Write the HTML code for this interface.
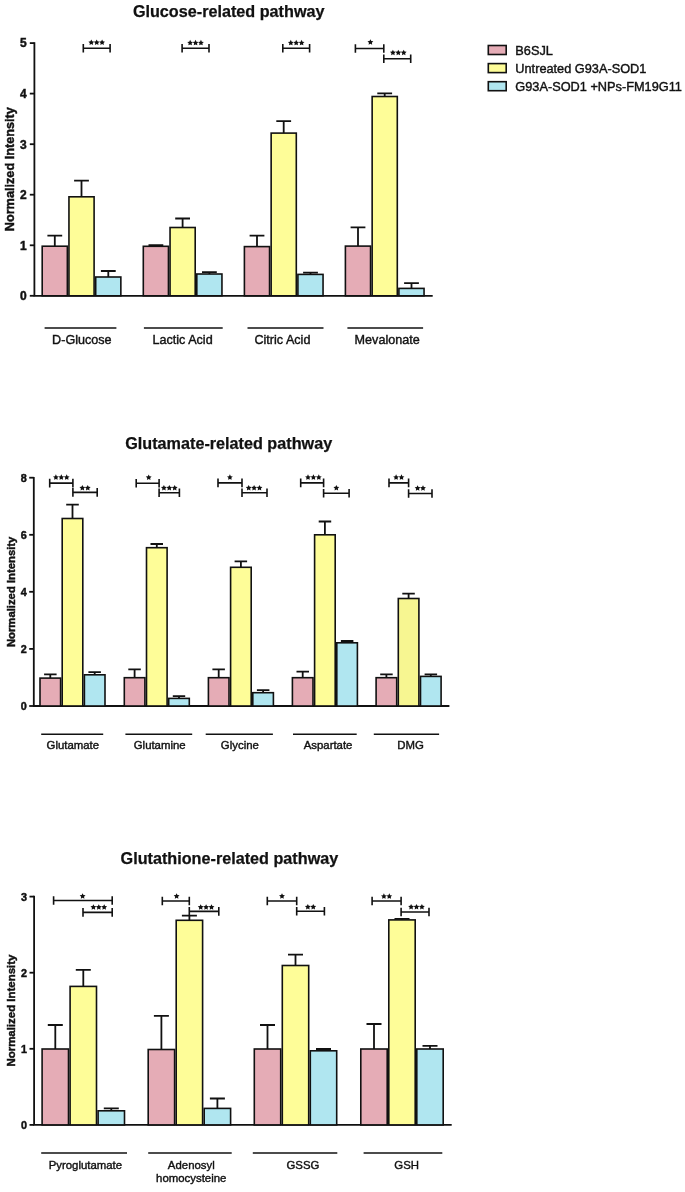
<!DOCTYPE html>
<html><head><meta charset="utf-8"><style>
html,body{margin:0;padding:0;background:#fff;}
body{width:685px;height:1192px;overflow:hidden;}
svg{display:block;} svg{filter:contrast(1)}
</style></head><body>
<svg width="685" height="1192" viewBox="0 0 685 1192" font-family="Liberation Sans, sans-serif" fill="#111"><style>.r{stroke:#111;stroke-width:0.4px;}.b{stroke:#111;stroke-width:0.45px;}.t{stroke:#111;stroke-width:0.25px;}</style>
<rect width="685" height="1192" fill="#fff"/>
<text class="t" x="228.7" y="16.8" font-size="16.2" font-weight="bold" text-anchor="middle">Glucose-related pathway</text>
<text class="b" transform="translate(13.6 169.2) rotate(-90)" font-size="12.7" font-weight="bold" text-anchor="middle">Normalized Intensity</text>
<path d="M34.4 42.2V295.8H432.7" stroke="#111" stroke-width="1.8" fill="none"/>
<path d="M29.8 295.8H34.4" stroke="#111" stroke-width="1.8"/>
<text class="b" x="26.8" y="300.1" font-size="12.0" font-weight="bold" text-anchor="end">0</text>
<path d="M29.8 245.3H34.4" stroke="#111" stroke-width="1.8"/>
<text class="b" x="26.8" y="249.6" font-size="12.0" font-weight="bold" text-anchor="end">1</text>
<path d="M29.8 194.7H34.4" stroke="#111" stroke-width="1.8"/>
<text class="b" x="26.8" y="199.0" font-size="12.0" font-weight="bold" text-anchor="end">2</text>
<path d="M29.8 144.2H34.4" stroke="#111" stroke-width="1.8"/>
<text class="b" x="26.8" y="148.5" font-size="12.0" font-weight="bold" text-anchor="end">3</text>
<path d="M29.8 93.6H34.4" stroke="#111" stroke-width="1.8"/>
<text class="b" x="26.8" y="98.0" font-size="12.0" font-weight="bold" text-anchor="end">4</text>
<path d="M29.8 43.1H34.4" stroke="#111" stroke-width="1.8"/>
<text class="b" x="26.8" y="47.4" font-size="12.0" font-weight="bold" text-anchor="end">5</text>
<path d="M54.8 246.2V235.7M47.4 235.7H62.2" stroke="#111" stroke-width="1.8" fill="none"/>
<rect x="42.20" y="246.20" width="25.15" height="49.60" fill="#e5acb6" stroke="#111" stroke-width="1.6"/>
<path d="M81.5 196.8V180.7M74.1 180.7H88.9" stroke="#111" stroke-width="1.8" fill="none"/>
<rect x="68.95" y="196.80" width="25.15" height="99.00" fill="#fefd98" stroke="#111" stroke-width="1.6"/>
<path d="M108.3 277.0V271.0M100.9 271.0H115.7" stroke="#111" stroke-width="1.8" fill="none"/>
<rect x="95.70" y="277.00" width="25.15" height="18.80" fill="#b0e6f0" stroke="#111" stroke-width="1.6"/>
<path d="M155.9 246.3V245.2M148.5 245.2H163.3" stroke="#111" stroke-width="1.8" fill="none"/>
<rect x="143.30" y="246.30" width="25.15" height="49.50" fill="#e5acb6" stroke="#111" stroke-width="1.6"/>
<path d="M182.6 227.5V218.5M175.2 218.5H190.0" stroke="#111" stroke-width="1.8" fill="none"/>
<rect x="170.05" y="227.50" width="25.15" height="68.30" fill="#fefd98" stroke="#111" stroke-width="1.6"/>
<path d="M209.4 274.0V272.1M202.0 272.1H216.8" stroke="#111" stroke-width="1.8" fill="none"/>
<rect x="196.80" y="274.00" width="25.15" height="21.80" fill="#b0e6f0" stroke="#111" stroke-width="1.6"/>
<path d="M257.0 246.6V235.7M249.6 235.7H264.4" stroke="#111" stroke-width="1.8" fill="none"/>
<rect x="244.40" y="246.60" width="25.15" height="49.20" fill="#e5acb6" stroke="#111" stroke-width="1.6"/>
<path d="M283.7 133.1V121.1M276.3 121.1H291.1" stroke="#111" stroke-width="1.8" fill="none"/>
<rect x="271.15" y="133.10" width="25.15" height="162.70" fill="#fefd98" stroke="#111" stroke-width="1.6"/>
<path d="M310.5 274.4V272.7M303.1 272.7H317.9" stroke="#111" stroke-width="1.8" fill="none"/>
<rect x="297.90" y="274.40" width="25.15" height="21.40" fill="#b0e6f0" stroke="#111" stroke-width="1.6"/>
<path d="M358.0 246.1V227.3M350.6 227.3H365.4" stroke="#111" stroke-width="1.8" fill="none"/>
<rect x="345.40" y="246.10" width="25.15" height="49.70" fill="#e5acb6" stroke="#111" stroke-width="1.6"/>
<path d="M384.7 96.5V93.4M377.3 93.4H392.1" stroke="#111" stroke-width="1.8" fill="none"/>
<rect x="372.15" y="96.50" width="25.15" height="199.30" fill="#fefd98" stroke="#111" stroke-width="1.6"/>
<path d="M411.5 288.4V283.2M404.1 283.2H418.9" stroke="#111" stroke-width="1.8" fill="none"/>
<rect x="398.90" y="288.40" width="25.15" height="7.40" fill="#b0e6f0" stroke="#111" stroke-width="1.6"/>
<path d="M83.3 44.0V52.6M110.1 44.0V52.6M83.3 48.3H110.1" stroke="#111" stroke-width="1.6" fill="none"/>
<polygon points="91.30,39.55 92.20,41.37 94.20,41.66 92.75,43.07 93.09,45.07 91.30,44.12 89.51,45.07 89.85,43.07 88.40,41.66 90.40,41.37" fill="#111"/>
<polygon points="96.70,39.55 97.60,41.37 99.60,41.66 98.15,43.07 98.49,45.07 96.70,44.12 94.91,45.07 95.25,43.07 93.80,41.66 95.80,41.37" fill="#111"/>
<polygon points="102.10,39.55 103.00,41.37 105.00,41.66 103.55,43.07 103.89,45.07 102.10,44.12 100.31,45.07 100.65,43.07 99.20,41.66 101.20,41.37" fill="#111"/>
<path d="M182.1 44.0V52.6M209.0 44.0V52.6M182.1 48.3H209.0" stroke="#111" stroke-width="1.6" fill="none"/>
<polygon points="190.15,39.85 191.05,41.67 193.05,41.96 191.60,43.37 191.94,45.37 190.15,44.42 188.36,45.37 188.70,43.37 187.25,41.96 189.25,41.67" fill="#111"/>
<polygon points="195.55,39.85 196.45,41.67 198.45,41.96 197.00,43.37 197.34,45.37 195.55,44.42 193.76,45.37 194.10,43.37 192.65,41.96 194.65,41.67" fill="#111"/>
<polygon points="200.95,39.85 201.85,41.67 203.85,41.96 202.40,43.37 202.74,45.37 200.95,44.42 199.16,45.37 199.50,43.37 198.05,41.96 200.05,41.67" fill="#111"/>
<path d="M282.8 44.0V52.6M309.6 44.0V52.6M282.8 48.3H309.6" stroke="#111" stroke-width="1.6" fill="none"/>
<polygon points="290.80,39.85 291.70,41.67 293.70,41.96 292.25,43.37 292.59,45.37 290.80,44.42 289.01,45.37 289.35,43.37 287.90,41.96 289.90,41.67" fill="#111"/>
<polygon points="296.20,39.85 297.10,41.67 299.10,41.96 297.65,43.37 297.99,45.37 296.20,44.42 294.41,45.37 294.75,43.37 293.30,41.96 295.30,41.67" fill="#111"/>
<polygon points="301.60,39.85 302.50,41.67 304.50,41.96 303.05,43.37 303.39,45.37 301.60,44.42 299.81,45.37 300.15,43.37 298.70,41.96 300.70,41.67" fill="#111"/>
<path d="M355.4 44.2V52.8M383.8 44.2V52.8M355.4 48.5H383.8" stroke="#111" stroke-width="1.6" fill="none"/>
<polygon points="370.40,39.25 371.30,41.07 373.30,41.36 371.85,42.77 372.19,44.77 370.40,43.82 368.61,44.77 368.95,42.77 367.50,41.36 369.50,41.07" fill="#111"/>
<path d="M383.8 54.4V63.0M410.7 54.4V63.0M383.8 58.7H410.7" stroke="#111" stroke-width="1.6" fill="none"/>
<polygon points="392.90,49.75 393.80,51.57 395.80,51.86 394.35,53.27 394.69,55.27 392.90,54.32 391.11,55.27 391.45,53.27 390.00,51.86 392.00,51.57" fill="#111"/>
<polygon points="398.30,49.75 399.20,51.57 401.20,51.86 399.75,53.27 400.09,55.27 398.30,54.32 396.51,55.27 396.85,53.27 395.40,51.86 397.40,51.57" fill="#111"/>
<polygon points="403.70,49.75 404.60,51.57 406.60,51.86 405.15,53.27 405.49,55.27 403.70,54.32 401.91,55.27 402.25,53.27 400.80,51.86 402.80,51.57" fill="#111"/>
<path d="M44.6 328.0H116.4" stroke="#111" stroke-width="1.6"/>
<path d="M143.9 328.0H222.7" stroke="#111" stroke-width="1.6"/>
<path d="M247.5 328.0H323.5" stroke="#111" stroke-width="1.6"/>
<path d="M347.4 328.0H423.1" stroke="#111" stroke-width="1.6"/>
<text class="r" x="81.85" y="344.3" font-size="12.6" text-anchor="middle">D-Glucose</text>
<text class="r" x="182.55" y="344.3" font-size="12.6" text-anchor="middle">Lactic Acid</text>
<text class="r" x="282.40" y="344.3" font-size="12.6" text-anchor="middle">Citric Acid</text>
<text class="r" x="387.15" y="344.3" font-size="12.6" text-anchor="middle">Mevalonate</text>
<rect x="488.3" y="45.5" width="17.9" height="9.0" fill="#e5acb6" stroke="#111" stroke-width="1.6"/>
<text class="r" x="515.3" y="55.1" font-size="12.75">B6SJL</text>
<rect x="488.3" y="63.6" width="17.9" height="9.0" fill="#fefd98" stroke="#111" stroke-width="1.6"/>
<text class="r" x="515.3" y="73.2" font-size="12.75">Untreated G93A-SOD1</text>
<rect x="488.3" y="81.7" width="17.9" height="9.0" fill="#b0e6f0" stroke="#111" stroke-width="1.6"/>
<text class="r" x="515.3" y="91.3" font-size="12.75">G93A-SOD1 +NPs-FM19G11</text>
<text class="t" x="228.7" y="449" font-size="16.2" font-weight="bold" text-anchor="middle">Glutamate-related pathway</text>
<text class="b" transform="translate(14.5 591.85) rotate(-90)" font-size="11.3" font-weight="bold" text-anchor="middle">Normalized Intensity</text>
<path d="M33.8 476.9V706.0H449.4" stroke="#111" stroke-width="1.8" fill="none"/>
<path d="M29.2 706.0H33.8" stroke="#111" stroke-width="1.8"/>
<text class="b" x="26.7" y="709.9" font-size="10.8" font-weight="bold" text-anchor="end">0</text>
<path d="M29.2 648.9H33.8" stroke="#111" stroke-width="1.8"/>
<text class="b" x="26.7" y="652.8" font-size="10.8" font-weight="bold" text-anchor="end">2</text>
<path d="M29.2 591.8H33.8" stroke="#111" stroke-width="1.8"/>
<text class="b" x="26.7" y="595.7" font-size="10.8" font-weight="bold" text-anchor="end">4</text>
<path d="M29.2 534.8H33.8" stroke="#111" stroke-width="1.8"/>
<text class="b" x="26.7" y="538.6" font-size="10.8" font-weight="bold" text-anchor="end">6</text>
<path d="M29.2 477.7H33.8" stroke="#111" stroke-width="1.8"/>
<text class="b" x="26.7" y="481.6" font-size="10.8" font-weight="bold" text-anchor="end">8</text>
<path d="M50.3 678.1V674.4M44.1 674.4H56.6" stroke="#111" stroke-width="1.8" fill="none"/>
<rect x="40.00" y="678.10" width="20.60" height="27.90" fill="#e5acb6" stroke="#111" stroke-width="1.6"/>
<path d="M72.5 518.5V504.7M66.2 504.7H78.8" stroke="#111" stroke-width="1.8" fill="none"/>
<rect x="62.20" y="518.50" width="20.60" height="187.50" fill="#fefd98" stroke="#111" stroke-width="1.6"/>
<path d="M94.7 674.8V672.2M88.4 672.2H100.9" stroke="#111" stroke-width="1.8" fill="none"/>
<rect x="84.40" y="674.80" width="20.60" height="31.20" fill="#b0e6f0" stroke="#111" stroke-width="1.6"/>
<path d="M134.6 677.7V669.4M128.3 669.4H140.8" stroke="#111" stroke-width="1.8" fill="none"/>
<rect x="124.30" y="677.70" width="20.60" height="28.30" fill="#e5acb6" stroke="#111" stroke-width="1.6"/>
<path d="M156.8 547.7V544.0M150.5 544.0H163.0" stroke="#111" stroke-width="1.8" fill="none"/>
<rect x="146.50" y="547.70" width="20.60" height="158.30" fill="#fefd98" stroke="#111" stroke-width="1.6"/>
<path d="M179.0 698.4V696.2M172.8 696.2H185.2" stroke="#111" stroke-width="1.8" fill="none"/>
<rect x="168.70" y="698.40" width="20.60" height="7.60" fill="#b0e6f0" stroke="#111" stroke-width="1.6"/>
<path d="M218.7 677.7V669.4M212.4 669.4H224.9" stroke="#111" stroke-width="1.8" fill="none"/>
<rect x="208.40" y="677.70" width="20.60" height="28.30" fill="#e5acb6" stroke="#111" stroke-width="1.6"/>
<path d="M240.9 567.3V561.4M234.6 561.4H247.1" stroke="#111" stroke-width="1.8" fill="none"/>
<rect x="230.60" y="567.30" width="20.60" height="138.70" fill="#fefd98" stroke="#111" stroke-width="1.6"/>
<path d="M263.1 692.7V690.1M256.9 690.1H269.4" stroke="#111" stroke-width="1.8" fill="none"/>
<rect x="252.80" y="692.70" width="20.60" height="13.30" fill="#b0e6f0" stroke="#111" stroke-width="1.6"/>
<path d="M302.7 677.7V671.6M296.5 671.6H309.0" stroke="#111" stroke-width="1.8" fill="none"/>
<rect x="292.40" y="677.70" width="20.60" height="28.30" fill="#e5acb6" stroke="#111" stroke-width="1.6"/>
<path d="M324.9 534.8V521.5M318.7 521.5H331.2" stroke="#111" stroke-width="1.8" fill="none"/>
<rect x="314.60" y="534.80" width="20.60" height="171.20" fill="#fefd98" stroke="#111" stroke-width="1.6"/>
<path d="M347.1 642.8V641.0M340.9 641.0H353.4" stroke="#111" stroke-width="1.8" fill="none"/>
<rect x="336.80" y="642.80" width="20.60" height="63.20" fill="#b0e6f0" stroke="#111" stroke-width="1.6"/>
<path d="M386.4 677.7V674.4M380.2 674.4H392.7" stroke="#111" stroke-width="1.8" fill="none"/>
<rect x="376.10" y="677.70" width="20.60" height="28.30" fill="#e5acb6" stroke="#111" stroke-width="1.6"/>
<path d="M408.6 598.5V593.7M402.3 593.7H414.8" stroke="#111" stroke-width="1.8" fill="none"/>
<rect x="398.30" y="598.50" width="20.60" height="107.50" fill="#f7f691" stroke="#111" stroke-width="1.6"/>
<path d="M430.8 676.4V674.4M424.6 674.4H437.1" stroke="#111" stroke-width="1.8" fill="none"/>
<rect x="420.50" y="676.40" width="20.60" height="29.60" fill="#b0e6f0" stroke="#111" stroke-width="1.6"/>
<path d="M49.7 478.8V487.4M72.9 478.8V487.4M49.7 483.1H72.9" stroke="#111" stroke-width="1.6" fill="none"/>
<polygon points="55.90,474.35 56.80,476.17 58.80,476.46 57.35,477.87 57.69,479.87 55.90,478.92 54.11,479.87 54.45,477.87 53.00,476.46 55.00,476.17" fill="#111"/>
<polygon points="61.30,474.35 62.20,476.17 64.20,476.46 62.75,477.87 63.09,479.87 61.30,478.92 59.51,479.87 59.85,477.87 58.40,476.46 60.40,476.17" fill="#111"/>
<polygon points="66.70,474.35 67.60,476.17 69.60,476.46 68.15,477.87 68.49,479.87 66.70,478.92 64.91,479.87 65.25,477.87 63.80,476.46 65.80,476.17" fill="#111"/>
<path d="M72.9 488.1V496.7M97.2 488.1V496.7M72.9 492.4H97.2" stroke="#111" stroke-width="1.6" fill="none"/>
<polygon points="82.35,484.95 83.25,486.77 85.25,487.06 83.80,488.47 84.14,490.47 82.35,489.52 80.56,490.47 80.90,488.47 79.45,487.06 81.45,486.77" fill="#111"/>
<polygon points="87.75,484.95 88.65,486.77 90.65,487.06 89.20,488.47 89.54,490.47 87.75,489.52 85.96,490.47 86.30,488.47 84.85,487.06 86.85,486.77" fill="#111"/>
<path d="M136.2 479.0V487.6M159.1 479.0V487.6M136.2 483.3H159.1" stroke="#111" stroke-width="1.6" fill="none"/>
<polygon points="148.70,474.45 149.60,476.27 151.60,476.56 150.15,477.97 150.49,479.97 148.70,479.02 146.91,479.97 147.25,477.97 145.80,476.56 147.80,476.27" fill="#111"/>
<path d="M159.1 488.5V497.1M179.4 488.5V497.1M159.1 492.8H179.4" stroke="#111" stroke-width="1.6" fill="none"/>
<polygon points="163.90,484.95 164.80,486.77 166.80,487.06 165.35,488.47 165.69,490.47 163.90,489.52 162.11,490.47 162.45,488.47 161.00,487.06 163.00,486.77" fill="#111"/>
<polygon points="169.30,484.95 170.20,486.77 172.20,487.06 170.75,488.47 171.09,490.47 169.30,489.52 167.51,490.47 167.85,488.47 166.40,487.06 168.40,486.77" fill="#111"/>
<polygon points="174.70,484.95 175.60,486.77 177.60,487.06 176.15,488.47 176.49,490.47 174.70,489.52 172.91,490.47 173.25,488.47 171.80,487.06 173.80,486.77" fill="#111"/>
<path d="M218.0 478.6V487.2M242.0 478.6V487.2M218.0 482.9H242.0" stroke="#111" stroke-width="1.6" fill="none"/>
<polygon points="229.90,474.35 230.80,476.17 232.80,476.46 231.35,477.87 231.69,479.87 229.90,478.92 228.11,479.87 228.45,477.87 227.00,476.46 229.00,476.17" fill="#111"/>
<path d="M242.0 488.5V497.1M267.0 488.5V497.1M242.0 492.8H267.0" stroke="#111" stroke-width="1.6" fill="none"/>
<polygon points="248.70,484.95 249.60,486.77 251.60,487.06 250.15,488.47 250.49,490.47 248.70,489.52 246.91,490.47 247.25,488.47 245.80,487.06 247.80,486.77" fill="#111"/>
<polygon points="254.10,484.95 255.00,486.77 257.00,487.06 255.55,488.47 255.89,490.47 254.10,489.52 252.31,490.47 252.65,488.47 251.20,487.06 253.20,486.77" fill="#111"/>
<polygon points="259.50,484.95 260.40,486.77 262.40,487.06 260.95,488.47 261.29,490.47 259.50,489.52 257.71,490.47 258.05,488.47 256.60,487.06 258.60,486.77" fill="#111"/>
<path d="M300.7 478.6V487.2M323.6 478.6V487.2M300.7 482.9H323.6" stroke="#111" stroke-width="1.6" fill="none"/>
<polygon points="308.00,474.35 308.90,476.17 310.90,476.46 309.45,477.87 309.79,479.87 308.00,478.92 306.21,479.87 306.55,477.87 305.10,476.46 307.10,476.17" fill="#111"/>
<polygon points="313.40,474.35 314.30,476.17 316.30,476.46 314.85,477.87 315.19,479.87 313.40,478.92 311.61,479.87 311.95,477.87 310.50,476.46 312.50,476.17" fill="#111"/>
<polygon points="318.80,474.35 319.70,476.17 321.70,476.46 320.25,477.87 320.59,479.87 318.80,478.92 317.01,479.87 317.35,477.87 315.90,476.46 317.90,476.17" fill="#111"/>
<path d="M323.6 489.0V497.6M349.1 489.0V497.6M323.6 493.3H349.1" stroke="#111" stroke-width="1.6" fill="none"/>
<polygon points="336.35,484.95 337.25,486.77 339.25,487.06 337.80,488.47 338.14,490.47 336.35,489.52 334.56,490.47 334.90,488.47 333.45,487.06 335.45,486.77" fill="#111"/>
<path d="M389.0 478.6V487.2M408.6 478.6V487.2M389.0 482.9H408.6" stroke="#111" stroke-width="1.6" fill="none"/>
<polygon points="396.10,474.35 397.00,476.17 399.00,476.46 397.55,477.87 397.89,479.87 396.10,478.92 394.31,479.87 394.65,477.87 393.20,476.46 395.20,476.17" fill="#111"/>
<polygon points="401.50,474.35 402.40,476.17 404.40,476.46 402.95,477.87 403.29,479.87 401.50,478.92 399.71,479.87 400.05,477.87 398.60,476.46 400.60,476.17" fill="#111"/>
<path d="M408.6 489.2V497.8M432.0 489.2V497.8M408.6 493.5H432.0" stroke="#111" stroke-width="1.6" fill="none"/>
<polygon points="417.60,485.15 418.50,486.97 420.50,487.26 419.05,488.67 419.39,490.67 417.60,489.72 415.81,490.67 416.15,488.67 414.70,487.26 416.70,486.97" fill="#111"/>
<polygon points="423.00,485.15 423.90,486.97 425.90,487.26 424.45,488.67 424.79,490.67 423.00,489.72 421.21,490.67 421.55,488.67 420.10,487.26 422.10,486.97" fill="#111"/>
<path d="M41.2 734.3H103.2" stroke="#111" stroke-width="1.6"/>
<path d="M125.4 734.3H192.2" stroke="#111" stroke-width="1.6"/>
<path d="M205.7 734.3H272.9" stroke="#111" stroke-width="1.6"/>
<path d="M293.0 734.3H356.7" stroke="#111" stroke-width="1.6"/>
<path d="M373.8 734.3H439.1" stroke="#111" stroke-width="1.6"/>
<text class="r" x="72.85" y="748.9" font-size="11.4" text-anchor="middle">Glutamate</text>
<text class="r" x="159.70" y="748.9" font-size="11.4" text-anchor="middle">Glutamine</text>
<text class="r" x="239.85" y="748.9" font-size="11.4" text-anchor="middle">Glycine</text>
<text class="r" x="328.10" y="748.9" font-size="11.4" text-anchor="middle">Aspartate</text>
<text class="r" x="410.60" y="748.9" font-size="11.4" text-anchor="middle">DMG</text>
<text class="t" x="229.4" y="864" font-size="16.2" font-weight="bold" text-anchor="middle">Glutathione-related pathway</text>
<text class="b" transform="translate(14.5 1010.6) rotate(-90)" font-size="11.45" font-weight="bold" text-anchor="middle">Normalized Intensity</text>
<path d="M34.1 895.8V1124.9H451.7" stroke="#111" stroke-width="1.8" fill="none"/>
<path d="M29.5 1124.9H34.1" stroke="#111" stroke-width="1.8"/>
<text class="b" x="27.1" y="1128.8" font-size="10.8" font-weight="bold" text-anchor="end">0</text>
<path d="M29.5 1048.8H34.1" stroke="#111" stroke-width="1.8"/>
<text class="b" x="27.1" y="1052.7" font-size="10.8" font-weight="bold" text-anchor="end">1</text>
<path d="M29.5 972.7H34.1" stroke="#111" stroke-width="1.8"/>
<text class="b" x="27.1" y="976.6" font-size="10.8" font-weight="bold" text-anchor="end">2</text>
<path d="M29.5 896.6H34.1" stroke="#111" stroke-width="1.8"/>
<text class="b" x="27.1" y="900.5" font-size="10.8" font-weight="bold" text-anchor="end">3</text>
<path d="M55.3 1049.0V1025.0M47.8 1025.0H62.8" stroke="#111" stroke-width="1.8" fill="none"/>
<rect x="42.10" y="1049.00" width="26.40" height="75.90" fill="#e5acb6" stroke="#111" stroke-width="1.6"/>
<path d="M83.3 986.4V969.9M75.8 969.9H90.8" stroke="#111" stroke-width="1.8" fill="none"/>
<rect x="70.10" y="986.40" width="26.40" height="138.50" fill="#fefd98" stroke="#111" stroke-width="1.6"/>
<path d="M111.3 1110.8V1108.4M103.8 1108.4H118.8" stroke="#111" stroke-width="1.8" fill="none"/>
<rect x="98.10" y="1110.80" width="26.40" height="14.10" fill="#b0e6f0" stroke="#111" stroke-width="1.6"/>
<path d="M161.4 1049.5V1015.9M153.9 1015.9H168.9" stroke="#111" stroke-width="1.8" fill="none"/>
<rect x="148.20" y="1049.50" width="26.40" height="75.40" fill="#e5acb6" stroke="#111" stroke-width="1.6"/>
<path d="M189.4 920.3V915.6M181.9 915.6H196.9" stroke="#111" stroke-width="1.8" fill="none"/>
<rect x="176.20" y="920.30" width="26.40" height="204.60" fill="#fefd98" stroke="#111" stroke-width="1.6"/>
<path d="M217.4 1108.4V1098.5M209.9 1098.5H224.9" stroke="#111" stroke-width="1.8" fill="none"/>
<rect x="204.20" y="1108.40" width="26.40" height="16.50" fill="#b0e6f0" stroke="#111" stroke-width="1.6"/>
<path d="M267.5 1049.0V1025.0M260.0 1025.0H275.0" stroke="#111" stroke-width="1.8" fill="none"/>
<rect x="254.30" y="1049.00" width="26.40" height="75.90" fill="#e5acb6" stroke="#111" stroke-width="1.6"/>
<path d="M295.5 965.5V954.6M288.0 954.6H303.0" stroke="#111" stroke-width="1.8" fill="none"/>
<rect x="282.30" y="965.50" width="26.40" height="159.40" fill="#fefd98" stroke="#111" stroke-width="1.6"/>
<path d="M323.5 1050.8V1049.0M316.0 1049.0H331.0" stroke="#111" stroke-width="1.8" fill="none"/>
<rect x="310.30" y="1050.80" width="26.40" height="74.10" fill="#b0e6f0" stroke="#111" stroke-width="1.6"/>
<path d="M374.0 1049.0V1024.0M366.5 1024.0H381.5" stroke="#111" stroke-width="1.8" fill="none"/>
<rect x="360.80" y="1049.00" width="26.40" height="75.90" fill="#e5acb6" stroke="#111" stroke-width="1.6"/>
<path d="M402.0 919.9V918.8M394.5 918.8H409.5" stroke="#111" stroke-width="1.8" fill="none"/>
<rect x="388.80" y="919.90" width="26.40" height="205.00" fill="#fefd98" stroke="#111" stroke-width="1.6"/>
<path d="M430.0 1049.0V1045.8M422.5 1045.8H437.5" stroke="#111" stroke-width="1.8" fill="none"/>
<rect x="416.80" y="1049.00" width="26.40" height="75.90" fill="#b0e6f0" stroke="#111" stroke-width="1.6"/>
<path d="M53.6 896.2V904.8M112.2 896.2V904.8M53.6 900.5H112.2" stroke="#111" stroke-width="1.6" fill="none"/>
<polygon points="82.60,893.25 83.50,895.07 85.50,895.36 84.05,896.77 84.39,898.77 82.60,897.82 80.81,898.77 81.15,896.77 79.70,895.36 81.70,895.07" fill="#111"/>
<path d="M83.0 908.1V916.7M112.2 908.1V916.7M83.0 912.4H112.2" stroke="#111" stroke-width="1.6" fill="none"/>
<polygon points="93.40,904.15 94.30,905.97 96.30,906.26 94.85,907.67 95.19,909.67 93.40,908.73 91.61,909.67 91.95,907.67 90.50,906.26 92.50,905.97" fill="#111"/>
<polygon points="98.80,904.15 99.70,905.97 101.70,906.26 100.25,907.67 100.59,909.67 98.80,908.73 97.01,909.67 97.35,907.67 95.90,906.26 97.90,905.97" fill="#111"/>
<polygon points="104.20,904.15 105.10,905.97 107.10,906.26 105.65,907.67 105.99,909.67 104.20,908.73 102.41,909.67 102.75,907.67 101.30,906.26 103.30,905.97" fill="#111"/>
<path d="M162.3 896.7V905.3M189.3 896.7V905.3M162.3 901.0H189.3" stroke="#111" stroke-width="1.6" fill="none"/>
<polygon points="176.60,893.25 177.50,895.07 179.50,895.36 178.05,896.77 178.39,898.77 176.60,897.82 174.81,898.77 175.15,896.77 173.70,895.36 175.70,895.07" fill="#111"/>
<path d="M189.3 907.1V915.7M218.8 907.1V915.7M189.3 911.4H218.8" stroke="#111" stroke-width="1.6" fill="none"/>
<polygon points="200.70,904.25 201.60,906.07 203.60,906.36 202.15,907.77 202.49,909.77 200.70,908.82 198.91,909.77 199.25,907.77 197.80,906.36 199.80,906.07" fill="#111"/>
<polygon points="206.10,904.25 207.00,906.07 209.00,906.36 207.55,907.77 207.89,909.77 206.10,908.82 204.31,909.77 204.65,907.77 203.20,906.36 205.20,906.07" fill="#111"/>
<polygon points="211.50,904.25 212.40,906.07 214.40,906.36 212.95,907.77 213.29,909.77 211.50,908.82 209.71,909.77 210.05,907.77 208.60,906.36 210.60,906.07" fill="#111"/>
<path d="M267.3 896.7V905.3M296.7 896.7V905.3M267.3 901.0H296.7" stroke="#111" stroke-width="1.6" fill="none"/>
<polygon points="282.00,893.25 282.90,895.07 284.90,895.36 283.45,896.77 283.79,898.77 282.00,897.82 280.21,898.77 280.55,896.77 279.10,895.36 281.10,895.07" fill="#111"/>
<path d="M296.7 906.9V915.5M324.4 906.9V915.5M296.7 911.2H324.4" stroke="#111" stroke-width="1.6" fill="none"/>
<polygon points="307.85,903.95 308.75,905.77 310.75,906.06 309.30,907.47 309.64,909.47 307.85,908.52 306.06,909.47 306.40,907.47 304.95,906.06 306.95,905.77" fill="#111"/>
<polygon points="313.25,903.95 314.15,905.77 316.15,906.06 314.70,907.47 315.04,909.47 313.25,908.52 311.46,909.47 311.80,907.47 310.35,906.06 312.35,905.77" fill="#111"/>
<path d="M372.1 896.7V905.3M401.1 896.7V905.3M372.1 901.0H401.1" stroke="#111" stroke-width="1.6" fill="none"/>
<polygon points="383.90,893.35 384.80,895.17 386.80,895.46 385.35,896.87 385.69,898.87 383.90,897.92 382.11,898.87 382.45,896.87 381.00,895.46 383.00,895.17" fill="#111"/>
<polygon points="389.30,893.35 390.20,895.17 392.20,895.46 390.75,896.87 391.09,898.87 389.30,897.92 387.51,898.87 387.85,896.87 386.40,895.46 388.40,895.17" fill="#111"/>
<path d="M401.1 907.7V916.3M429.0 907.7V916.3M401.1 912.0H429.0" stroke="#111" stroke-width="1.6" fill="none"/>
<polygon points="411.10,903.95 412.00,905.77 414.00,906.06 412.55,907.47 412.89,909.47 411.10,908.52 409.31,909.47 409.65,907.47 408.20,906.06 410.20,905.77" fill="#111"/>
<polygon points="416.50,903.95 417.40,905.77 419.40,906.06 417.95,907.47 418.29,909.47 416.50,908.52 414.71,909.47 415.05,907.47 413.60,906.06 415.60,905.77" fill="#111"/>
<polygon points="421.90,903.95 422.80,905.77 424.80,906.06 423.35,907.47 423.69,909.47 421.90,908.52 420.11,909.47 420.45,907.47 419.00,906.06 421.00,905.77" fill="#111"/>
<path d="M41.2 1153.0H127.0" stroke="#111" stroke-width="1.6"/>
<path d="M148.2 1153.0H231.7" stroke="#111" stroke-width="1.6"/>
<path d="M252.8 1153.0H337.3" stroke="#111" stroke-width="1.6"/>
<path d="M363.6 1153.0H442.3" stroke="#111" stroke-width="1.6"/>
<text class="r" x="85.40" y="1168.9" font-size="11.4" text-anchor="middle">Pyroglutamate</text>
<text class="r" x="191.30" y="1168.9" font-size="11.4" text-anchor="middle">Adenosyl</text>
<text class="r" x="191.20" y="1182.4" font-size="11.4" text-anchor="middle">homocysteine</text>
<text class="r" x="302.95" y="1168.9" font-size="11.4" text-anchor="middle">GSSG</text>
<text class="r" x="406.65" y="1168.9" font-size="11.4" text-anchor="middle">GSH</text>
</svg>
</body></html>
